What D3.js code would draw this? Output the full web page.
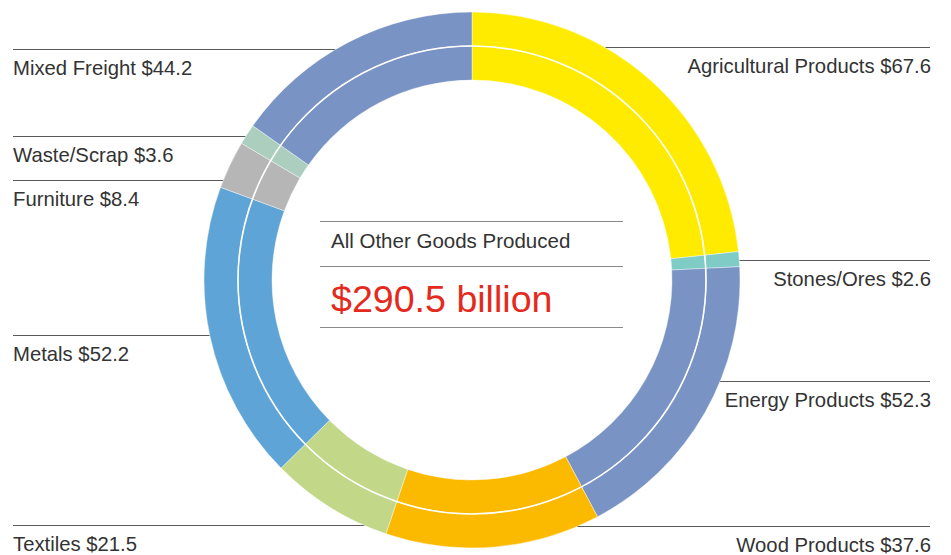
<!DOCTYPE html>
<html>
<head>
<meta charset="utf-8">
<script src="https://cdn.jsdelivr.net/npm/d3@7/dist/d3.min.js"></script>
<style>
  html, body { margin: 0; padding: 0; background: #fff; }
  svg { display: block; }
  text { font-family: "Liberation Sans", Arial, Helvetica, sans-serif; }
</style>
</head>
<body>
<svg id="chart" width="951" height="555"></svg>
<script>
// ---- data ----
const categories = ["Agricultural Products", "Stones/Ores", "Energy Products", "Wood Products",
                    "Textiles", "Metals", "Furniture", "Waste/Scrap", "Mixed Freight"];
const values = [67.6, 2.6, 52.3, 37.6, 21.5, 52.2, 8.4, 3.6, 44.2];
const colors = ["#FFEB00", "#7FCBC5", "#7993C5", "#FBBA00", "#C2D888", "#5FA4D7", "#B6B6B6", "#ABCEBF", "#7993C5"];
const sides = ["right", "right", "right", "right", "left", "left", "left", "left", "left"];
const labelLineY = [47, 260, 381, 526, 525, 335, 180, 136, 49];
const centerTitle = "All Other Goods Produced";
const centerTotal = "$290.5 billion";

// ---- layout ----
const cx = 472, cy = 280;
const rOuter = 268, rMid = 234, rInner = 200;
const leftX = 13, rightX = 931;

const svg = d3.select("#chart");
const lineColor = "#5a5a5a";

// label lines (drawn beneath the ring)
const gLines = svg.append("g");
categories.forEach((c, i) => {
  const y = labelLineY[i];
  const x1 = sides[i] === "left" ? leftX : cx;
  const x2 = sides[i] === "left" ? cx : rightX - 1;
  gLines.append("line")
    .attr("x1", x1).attr("x2", x2).attr("y1", y + 0.5).attr("y2", y + 0.5)
    .attr("stroke", lineColor).attr("stroke-width", 1);
});

// donut
const pie = d3.pie().sort(null).value(d => d.v);
const data = values.map((v, i) => ({ v, c: colors[i], name: categories[i] }));
const arcsData = pie(data);
const g = svg.append("g").attr("transform", `translate(${cx},${cy})`);

g.append("circle").attr("r", rOuter).attr("fill", "#fff");

const arcOuter = d3.arc().innerRadius(rMid).outerRadius(rOuter);
const arcInner = d3.arc().innerRadius(rInner).outerRadius(rMid);
[arcOuter, arcInner].forEach(a => {
  g.selectAll(null).data(arcsData).enter().append("path")
    .attr("d", a)
    .attr("fill", d => d.data.c)
    .attr("stroke", "#fff").attr("stroke-width", 0.4);
});
g.append("circle").attr("r", rMid).attr("fill", "none")
  .attr("stroke", "#fff").attr("stroke-width", 1.6);

// labels
categories.forEach((c, i) => {
  const y = labelLineY[i];
  const left = sides[i] === "left";
  svg.append("text")
    .attr("x", left ? leftX : rightX)
    .attr("y", y + 26)
    .attr("text-anchor", left ? "start" : "end")
    .attr("font-size", 20.3)
    .attr("fill", "#333")
    .text(`${c} $${values[i]}`);
});

// center block
const cLineX1 = 320, cLineX2 = 623;
[221, 266, 327].forEach(y => {
  svg.append("line").attr("x1", cLineX1).attr("x2", cLineX2)
    .attr("y1", y + 0.5).attr("y2", y + 0.5)
    .attr("stroke", "#8a8a8a").attr("stroke-width", 1.2);
});
svg.append("text").attr("x", 331).attr("y", 248)
  .attr("font-size", 20.5).attr("fill", "#333").text(centerTitle);
svg.append("text").attr("x", 331).attr("y", 312)
  .attr("font-size", 37.6).attr("fill", "#E42A1D").text(centerTotal);
</script>
</body>
</html>
